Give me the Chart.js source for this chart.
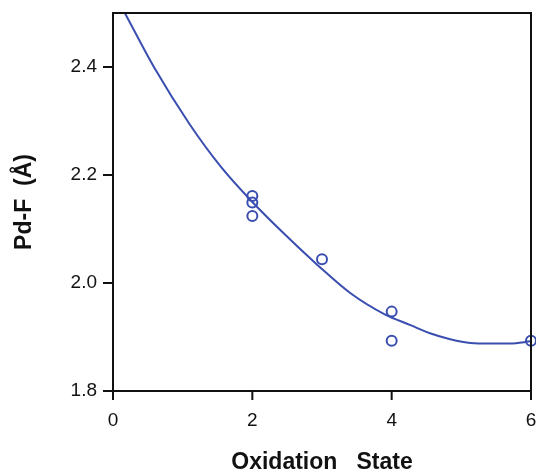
<!DOCTYPE html>
<html>
<head>
<meta charset="utf-8">
<script src="https://cdn.jsdelivr.net/npm/chart.js@4"></script>
<style>
    body { margin: 0; background: #fff; }
    canvas { display: block; }
</style>
</head>
<body>
<canvas id="chart" width="536" height="472"></canvas>
<script>
// fitted curve
const fitX = [0.17, 0.6, 1.1, 1.55, 2.0, 2.45, 2.93, 3.41, 3.9, 4.27, 4.55, 4.84, 5.13, 5.42, 5.7, 6.0];
const fitY = [2.50, 2.397, 2.294, 2.215, 2.15, 2.092, 2.034, 1.981, 1.942, 1.922, 1.907, 1.896, 1.889, 1.888, 1.888, 1.892];

// measured Pd-F distances
const obsX = [2, 2, 2, 3, 4, 4, 6];
const obsY = [2.161, 2.149, 2.124, 2.044, 1.947, 1.893, 1.893];

const xMajor = [0, 2, 4, 6];
const yMajor = [1.8, 2.0, 2.2, 2.4];

const blue = 'rgb(58, 78, 176)';

Chart.defaults.font.family = '"Liberation Sans", Arial, sans-serif';
Chart.defaults.color = '#111';

const isMajor = (list, v) => list.some(m => Math.abs(m - v) < 1e-6);

// frame + outward tick marks
const framePlugin = {
    id: 'frame',
    afterDraw: chart => {
        const ctx = chart.ctx;
        const a = chart.chartArea;
        const xs = chart.scales.x;
        const ys = chart.scales.y;

        ctx.save();
        ctx.strokeStyle = '#111';
        ctx.lineWidth = 2;
        ctx.strokeRect(a.left, a.top, a.right - a.left, a.bottom - a.top);

        ctx.beginPath();
        xs.ticks.forEach(t => {
            const px = xs.getPixelForValue(t.value);
            const len = isMajor(xMajor, t.value) ? 9 : 4;
            ctx.moveTo(px, a.bottom);
            ctx.lineTo(px, a.bottom + len);
        });
        ys.ticks.forEach(t => {
            const py = ys.getPixelForValue(t.value);
            const len = isMajor(yMajor, t.value) ? 10 : 5;
            ctx.moveTo(a.left, py);
            ctx.lineTo(a.left - len, py);
        });
        ctx.stroke();
        ctx.restore();
    },
};

new Chart(document.getElementById('chart').getContext('2d'), {
    type: 'scatter',
    data: {
        datasets: [
            {
                label: 'fit',
                type: 'line',
                data: fitX.map((x, i) => ({ x: x, y: fitY[i] })),
                borderColor: blue,
                borderWidth: 2,
                pointRadius: 0,
                cubicInterpolationMode: 'monotone',
                fill: false,
                order: 2,
            },
            {
                label: 'observed',
                data: obsX.map((x, i) => ({ x: x, y: obsY[i] })),
                borderColor: blue,
                backgroundColor: 'transparent',
                borderWidth: 2,
                pointRadius: 5,
                clip: false,
                order: 1,
            },
        ],
    },
    options: {
        responsive: false,
        animation: false,
        layout: {
            autoPadding: false,
            padding: { top: 13, right: 5, left: 0, bottom: 0 },
        },
        plugins: {
            legend: { display: false },
            tooltip: { enabled: false },
        },
        scales: {
            x: {
                type: 'linear',
                min: 0,
                max: 6,
                afterFit: scale => {
                    scale.height = 81;
                    scale.paddingLeft = 0;
                    scale.paddingRight = 0;
                },
                ticks: {
                    stepSize: 1,
                    padding: 18,
                    font: { size: 19 },
                    color: '#111',
                    callback: v => (isMajor(xMajor, v) ? String(v) : null),
                },
                grid: { display: true, drawOnChartArea: false, drawTicks: false },
                border: { display: false },
                title: {
                    display: true,
                    text: 'Oxidation   State',
                    font: { size: 23, weight: 'bold', lineHeight: 0.8 },
                    color: '#111',
                    padding: { top: 0, bottom: 0 },
                },
            },
            y: {
                min: 1.8,
                max: 2.5,
                afterFit: scale => {
                    scale.width = 113;
                    scale.paddingTop = 0;
                    scale.paddingBottom = 0;
                },
                ticks: {
                    stepSize: 0.1,
                    padding: 16,
                    font: { size: 19 },
                    color: '#111',
                    callback: v => (isMajor(yMajor, v) ? v.toFixed(1) : null),
                },
                grid: { display: true, drawOnChartArea: false, drawTicks: false },
                border: { display: false },
                title: {
                    display: true,
                    text: 'Pd-F  (Å)',
                    font: { size: 23, weight: 'bold' },
                    color: '#111',
                    padding: { top: 11, bottom: 0 },
                },
            },
        },
    },
    plugins: [framePlugin],
});
</script>
</body>
</html>
